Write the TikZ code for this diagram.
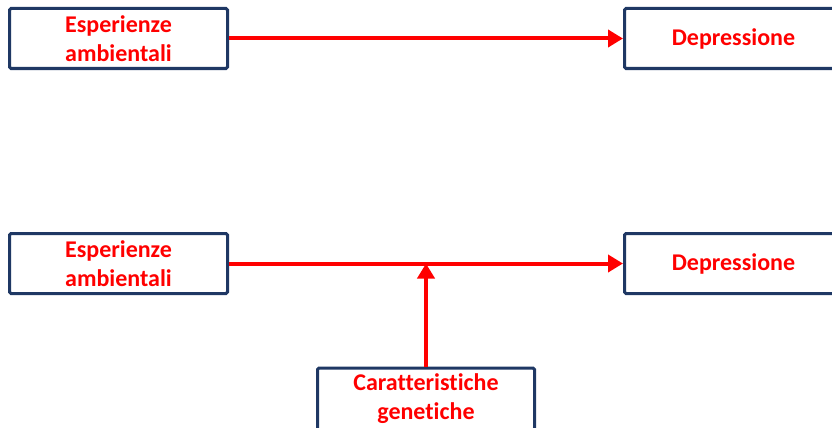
\documentclass[tikz,border=0pt]{standalone}
\usepackage{fontspec}
\setmainfont{Carlito}[Ligatures=NoCommon]
\usetikzlibrary{arrows.meta}
\definecolor{boxblue}{HTML}{1F3864}
\definecolor{txtred}{HTML}{FF0000}
\tikzset{
  boxnode/.style={draw=boxblue, line width=3pt, rounded corners=1.5pt, fill=white,
    inner sep=0pt, align=center, text=txtred,
    font=\fontsize{24}{29}\selectfont\bfseries},
  redarrow/.style={draw=txtred, line width=4pt, -{Triangle[length=15pt,width=17pt]}}
}
\begin{document}
\begin{tikzpicture}[x=1pt,y=-1pt]
\useasboundingbox (0,0) rectangle (832,428);
\node[boxnode, minimum width=218pt, minimum height=60pt] (e1) at (118.5,38.5) {Esperienze\\ambientali};
\node[boxnode, minimum width=218pt, minimum height=60pt] (d1) at (733.5,38.5) {Depressione};
\node[boxnode, minimum width=218pt, minimum height=60pt] (e2) at (118.5,263.5) {Esperienze\\ambientali};
\node[boxnode, minimum width=218pt, minimum height=60pt] (d2) at (733.5,263.5) {Depressione};
\node[boxnode, minimum width=217pt, minimum height=62pt] (g) at (426,399) {Caratteristiche\\genetiche};
\draw[redarrow] (e1.east) -- (d1.west);
\draw[redarrow] (e2.east) -- (d2.west);
\coordinate (m) at (426,263.5);
\draw[redarrow] (g.north) -- (m);
\end{tikzpicture}
\end{document}
